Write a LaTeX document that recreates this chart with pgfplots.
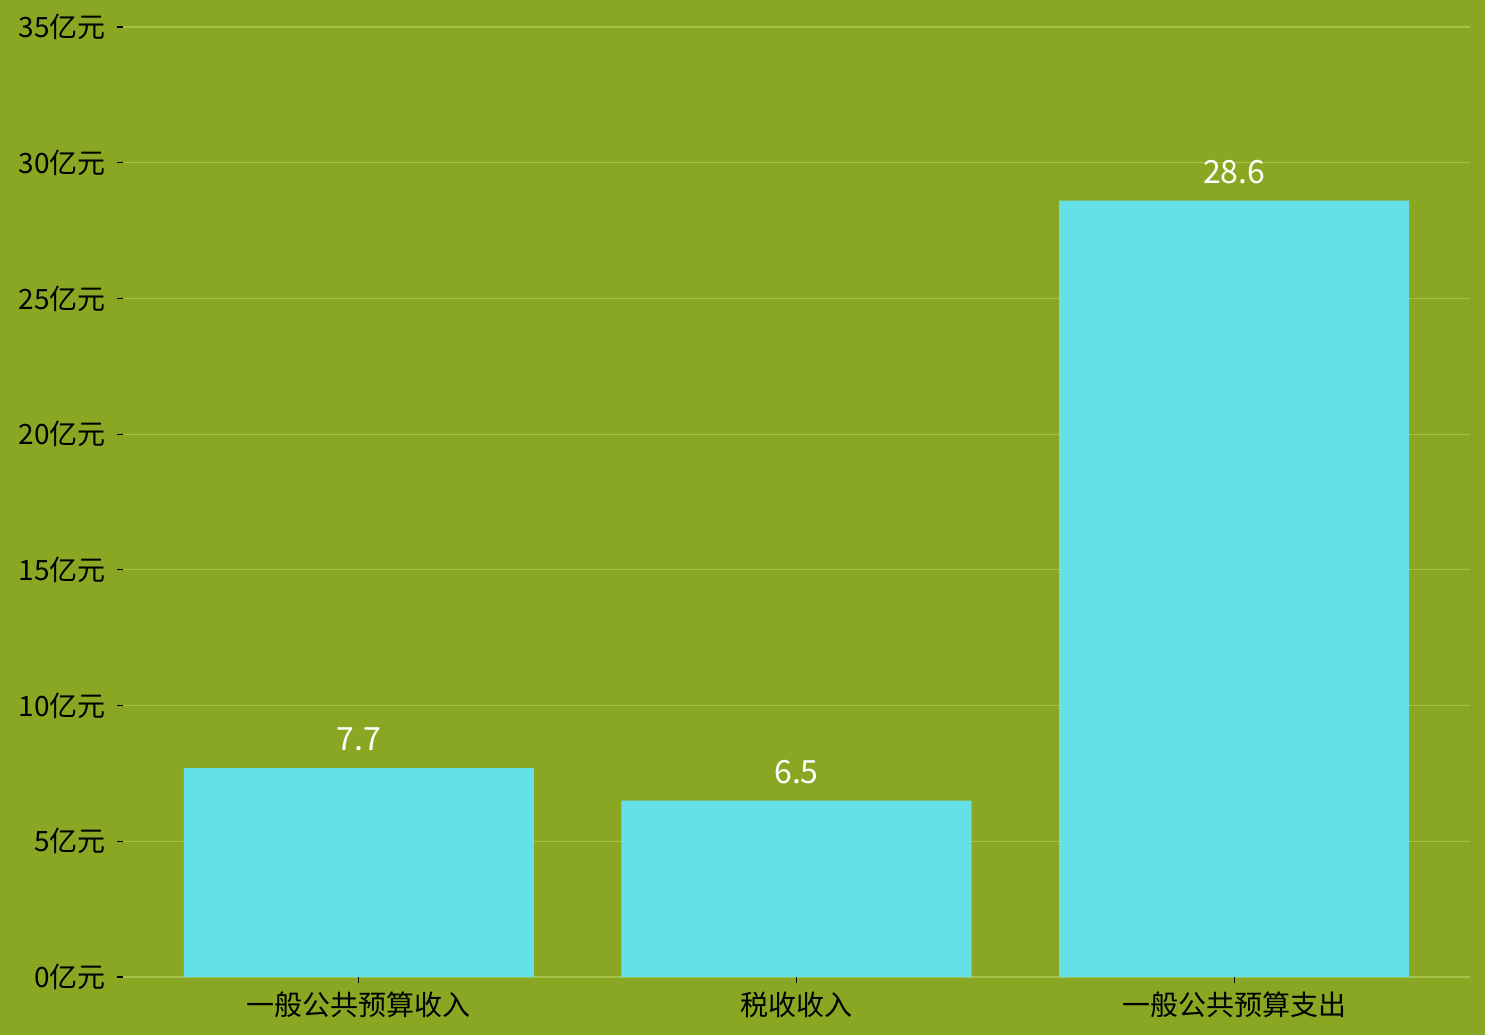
\documentclass[border=0pt]{standalone}
\usepackage{pgfplots}
\pgfplotsset{compat=1.18}
\usepackage{fontspec}
\setmainfont{Noto Sans CJK SC}
\definecolor{bg}{HTML}{8AA724}
\definecolor{gridc}{HTML}{A6C24C}
\definecolor{barc}{HTML}{64E0E6}

\begin{document}
\begin{tikzpicture}
\fill[bg] (0,0) rectangle (742.5pt,517.5pt);
\useasboundingbox (0,0) rectangle (742.5pt,517.5pt);
\begin{axis}[
    /pgf/number format/assume math mode=true,
    at={(61.5pt,29pt)}, anchor=south west,
    scale only axis,
    width=673.5pt, height=475pt,
    xmin=-0.539, xmax=2.539,
    ymin=0, ymax=35,
    ytick={0,5,...,35},
    yticklabel={\pgfmathprintnumber{\tick}亿元},
    xtick=data,
    xticklabels={一般公共预算收入,税收收入,一般公共预算支出},
    axis line style={draw=none},
    tick style={black, line width=0.6pt},
    major tick length=3pt,
    tick align=outside,
    xtick pos=bottom, ytick pos=left,
    ymajorgrids=true,
    grid style={gridc, line width=0.6pt},
    ticklabel style={font=\fontsize{14}{16}\selectfont, black},
    yticklabel style={xshift=-2pt},
    xticklabel style={yshift=-1pt},
    ybar, bar width=0.8,
    nodes near coords,
    nodes near coords style={white, font=\fontsize{16}{18}\selectfont, yshift=5pt},
    every node near coord/.append style={/pgf/number format/.cd, fixed, precision=1, fixed zerofill, assume math mode=true},
]
\addplot[fill=barc, draw=none] coordinates {(0,7.7) (1,6.5) (2,28.6)};
\end{axis}
\end{tikzpicture}
\end{document}
